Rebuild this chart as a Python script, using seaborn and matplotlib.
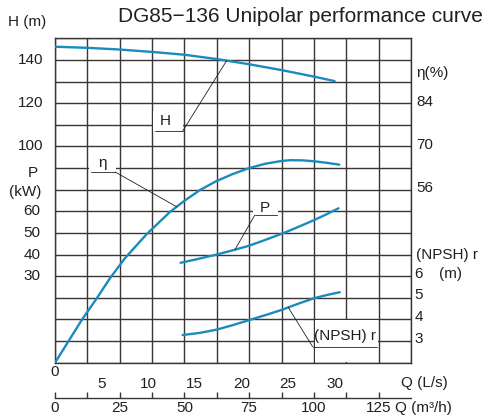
import numpy as np
import pandas as pd
import matplotlib
matplotlib.use("Agg")
import matplotlib.pyplot as plt
from matplotlib.patches import Rectangle
import seaborn as sns

# ---------------- data ----------------
title = "DG85−136 Unipolar performance curve"

h_q = [0, 12.5, 25, 37.5, 50, 62.5, 75, 87.5, 100, 108]
h_val = [146.1, 145.6, 144.8, 143.7, 142.4, 140.4, 138.0, 135.3, 132.3, 130.2]

eta_q = [0, 5.1, 10.3, 16.1, 21.2, 27, 35.4, 44.4, 50, 56, 62.4, 68.75, 75,
         81.25, 87.5, 91, 95.5, 100, 105, 109.8]
eta_val = [0, 6.8, 13.8, 20.8, 27.3, 33.8, 41.6, 48.8, 52.4, 55.9, 58.8, 61.1, 63.0,
           64.4, 65.3, 65.55, 65.5, 65.2, 64.7, 64.1]

p_q = [48.5, 55, 62.4, 68.75, 75, 81.25, 88.2, 94, 100, 105, 109.5]
p_val = [36.2, 37.9, 40.0, 42.0, 44.1, 46.8, 49.9, 52.8, 55.9, 58.7, 61.4]

npsh_q = [49.3, 56, 62.5, 68.75, 75, 81.25, 87.5, 93.75, 100, 105, 110]
npsh_val = [3.28, 3.38, 3.53, 3.74, 3.97, 4.2, 4.44, 4.72, 4.98, 5.13, 5.26]

q_ls_ticks = [5, 10, 15, 20, 25, 30]
q_m3h_ticks = [0, 25, 50, 75, 100, 125]
h_ticks = [100, 120, 140]
p_ticks = [30, 40, 50, 60]
eta_ticks = [56, 70, 84]
npsh_ticks = [3, 4, 5, 6]

# ---------------- scales (all curves share the H grid) ----------------
def p_to_h(v):
    return np.asarray(v, float) + 10.0

def eta_to_h(v):
    return np.asarray(v, float) / 0.7

def npsh_to_h(v):
    return (np.asarray(v, float) - 2.0) * 10.0

LS_TO_M3H = 3.6

# ---------------- style ----------------
sns.set_style("white")
FONT = ["Liberation Sans", "DejaVu Sans"]
plt.rcParams["font.family"] = FONT
TXT = "#231f20"
GRID = "#3a3434"
CURVE = "#1b8bbd"

W, H = 488, 419
fig = plt.figure(figsize=(W / 100, H / 100), dpi=100)
fig.patch.set_facecolor("white")

L, R, T, B = 55, 411, 38.3, 362.7
ax = fig.add_axes([L / W, (H - B) / H, (R - L) / W, (B - T) / H])
ax.set_xlim(0, 137.5)
ax.set_ylim(0, 150)
ax.set_axisbelow(True)

# grid via minor ticks
ax.set_xticks(np.arange(0, 137.6, 12.5), minor=True)
ax.set_yticks(np.arange(0, 150.1, 10), minor=True)
ax.grid(which="minor", color=GRID, lw=1.0)
ax.grid(which="major", visible=False)
ax.tick_params(which="minor", length=0)
for s in ax.spines.values():
    s.set_color(GRID)
    s.set_linewidth(1.0)

# bottom L/s axis
ax.set_xticks([v * LS_TO_M3H for v in q_ls_ticks])
ax.set_xticklabels([str(v) for v in q_ls_ticks])
ax.tick_params(axis="x", which="major", direction="out", length=4, width=1,
               color=GRID, labelsize=11, labelcolor=TXT, pad=6)
ax.set_yticks([])

# secondary m3/h axis
sec = ax.secondary_xaxis(-0.108)
sec.set_xticks(q_m3h_ticks)
sec.set_xticklabels([str(v) for v in q_m3h_ticks])
sec.set_xticks(np.arange(12.5, 126, 25), minor=True)
sec.tick_params(which="both", direction="in", length=4, width=1, color=GRID,
                labelsize=11, labelcolor=TXT, pad=2)
sec.spines["bottom"].set_color(GRID)
sec.spines["bottom"].set_linewidth(1.0)

# ---------------- curves ----------------
df_h = pd.DataFrame({"q": h_q, "y": h_val})
df_eta = pd.DataFrame({"q": eta_q, "y": eta_to_h(eta_val)})
df_p = pd.DataFrame({"q": p_q, "y": p_to_h(p_val)})
df_n = pd.DataFrame({"q": npsh_q, "y": npsh_to_h(npsh_val)})
for d in (df_h, df_eta, df_p, df_n):
    sns.lineplot(data=d, x="q", y="y", ax=ax, color=CURVE, lw=1.7,
                 sort=False, estimator=None, zorder=3)
ax.set_xlabel("")
ax.set_ylabel("")

# ---------------- annotation labels (white boxes + leader lines) ----------------
def label(txt, tx, ty, ul, box, tip, fs=11):
    bx0, bx1, by0, by1 = box
    ax.add_patch(Rectangle((bx0, by0), bx1 - bx0, by1 - by0, facecolor="white",
                           edgecolor="none", zorder=1))
    ax.text(tx, ty, txt, ha="center", va="center", fontsize=fs, color=TXT, zorder=4)
    ux0, ux1, uy = ul
    ax.plot([ux0, ux1], [uy, uy], color=TXT, lw=0.6, zorder=4)
    ax.plot([tip[0], tip[2]], [tip[1], tip[3]], color=TXT, lw=0.6, zorder=4)

label("H", 42.5, 111.8, (38.6, 49.3, 107.1), (38.0, 49.4, 107.1, 116.5),
      (49.3, 107.1, 66.3, np.interp(66.3, h_q, h_val)))
label("η", 18.5, 92.4, (13.8, 23.2, 88.2), (13.0, 23.5, 88.2, 96.5),
      (23.2, 88.2, 47.0, np.interp(47.0, eta_q, eta_to_h(eta_val))))
label("P", 81.1, 71.6, (77.2, 85.6, 68.3), (76.5, 86.0, 68.3, 76.0),
      (77.2, 68.3, 69.5, np.interp(69.5, p_q, p_to_h(p_val))))
label("(NPSH) r", 112.0, 12.4, (99.5, 124.2, 7.4), (100.4, 124.7, 0.3, 19.8),
      (99.5, 7.4, 90.1, np.interp(90.1, npsh_q, npsh_to_h(npsh_val))), fs=11)

# ---------------- axis value labels ----------------
ax.annotate("0", xy=(0, 0), xytext=(0, -9), textcoords="offset pixels",
            ha="center", va="center", fontsize=11, color=TXT)

data_px = lambda yv: B - yv * (B - T) / 150.0

def ftext(x, y, s, **kw):
    kw.setdefault("fontsize", 11)
    kw.setdefault("color", TXT)
    fig.text(x / W, 1 - y / H, s, **kw)

for v in h_ticks:
    ftext(43.5, data_px(v), str(v), ha="right", va="center")
for v in p_ticks:
    ftext(40.5, data_px(float(p_to_h(v))), str(v), ha="right", va="center")
for v in eta_ticks:
    ftext(416.5, data_px(float(eta_to_h(v))) - 1.5, str(v), ha="left", va="center")
for v in npsh_ticks:
    ftext(414.5, data_px(float(npsh_to_h(v))) - 2.5, str(v), ha="left", va="center")

ftext(27.5, 21.7, "H (m)", ha="center", va="center")
ftext(33, 173, "P", ha="center", va="center")
ftext(25.5, 191.5, "(kW)", ha="center", va="center")
ftext(416.5, 73, "η(%)", ha="left", va="center")
ftext(416, 255, "(NPSH) r", ha="left", va="center")
ftext(451, 274, "(m)", ha="center", va="center")
ftext(401, 382.7, "Q (L/s)", ha="left", va="center")
ftext(395, 408.3, "Q (m³/h)", ha="left", va="center")
ftext(300, 16.7, title, ha="center", va="center", fontsize=15)

fig.savefig("out.png", dpi=100, facecolor="white")
